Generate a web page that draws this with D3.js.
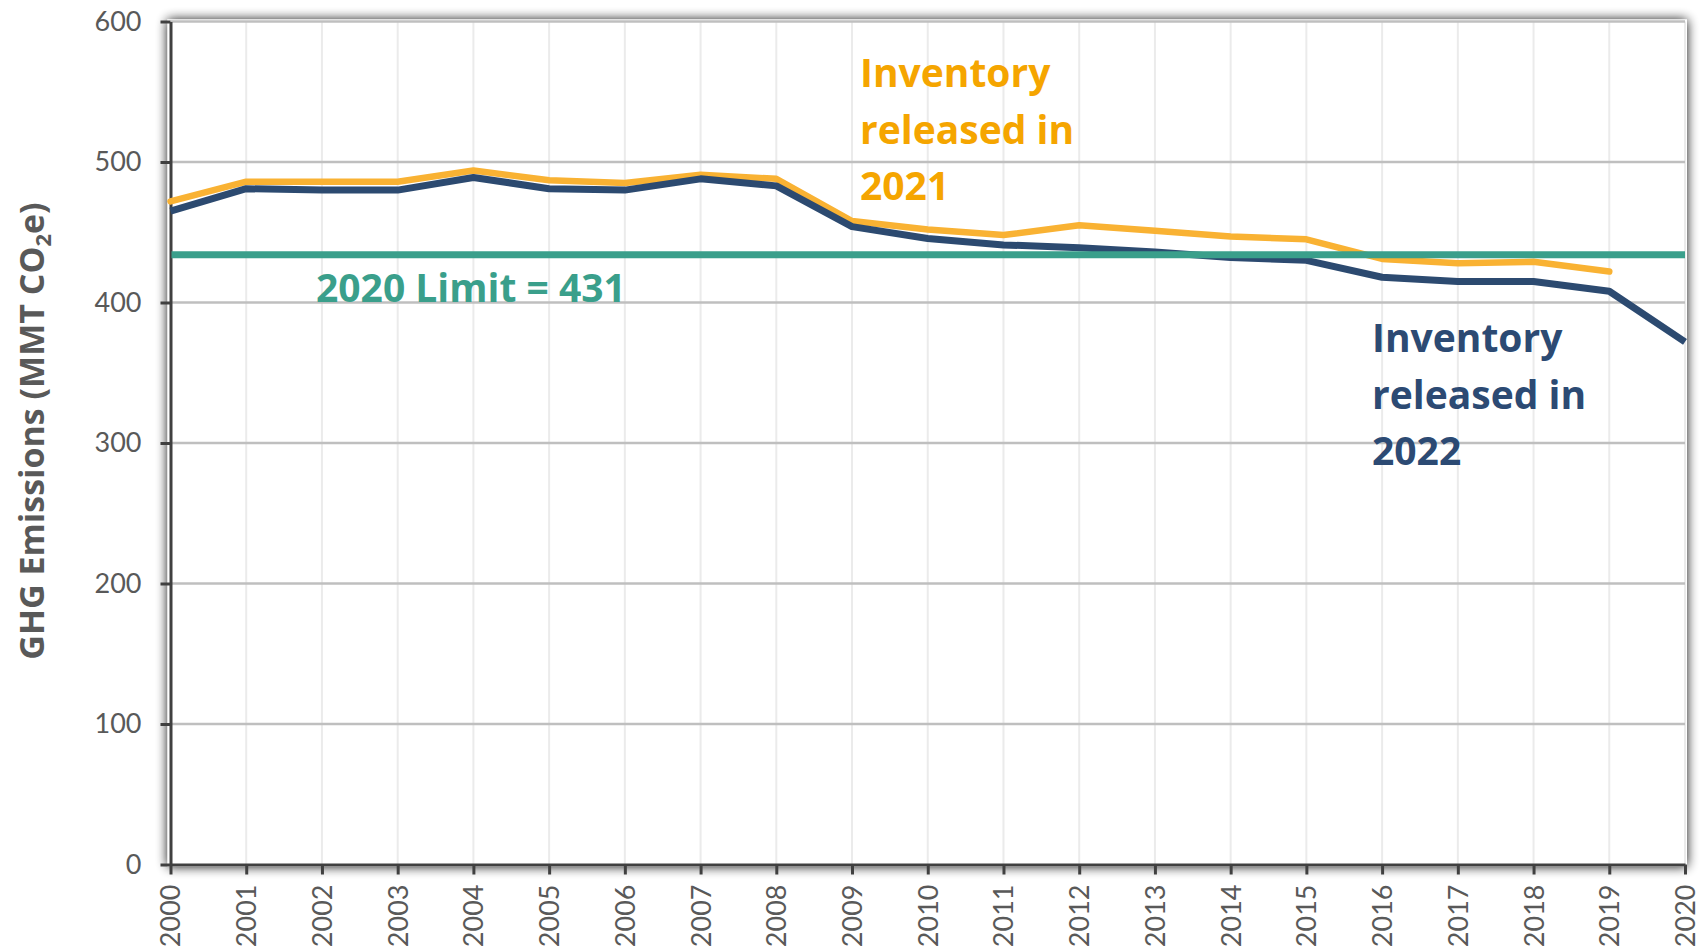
<!DOCTYPE html>
<html lang="en">
	<head>
		<meta charset="UTF-8">
		<title>GHG Emissions Inventory</title>
		<style>
			body, html {
				margin: 0;
				background-color: #ffffff;
			}
			text {
				font-family: "Open Sans", Lato, sans-serif;
			}
		</style>
	</head>
	<body>
		<svg id="svg" width="1703" height="950"></svg>

		<script src="https://d3js.org/d3.v7.min.js"></script>
		<script>
			const years = d3.range(2000, 2021)
			const yTicks = [0, 100, 200, 300, 400, 500, 600]
			// inventory released in 2021 (ends 2019)
			const inv2021 = [472, 486, 486, 486, 494, 487, 485, 491, 488, 458, 452, 448, 455, 451, 447, 445, 431, 428, 429, 422]
			// inventory released in 2022
			const inv2022 = [465, 481, 480, 480, 489, 481, 480, 488, 483, 454, 445.5, 441, 439, 436, 432, 430, 418, 415, 415, 408, 372]
			// limit line as drawn in the picture (labelled 431)
			const limitLine = 434
			const limitLabel = '2020 Limit = 431'

			const svg = d3.select('#svg')
			const plotLeft = 170.5, plotRight = 1685, plotTop = 21.5, plotBottom = 864.5

			const x = d3.scalePoint().domain(years).range([plotLeft, plotRight])
			const y = d3.scaleLinear().domain([0, 600]).range([plotBottom, plotTop])

			// shadow round the plot frame
			const defs = svg.append('defs')
			const f = defs.append('filter').attr('id', 'shadow')
				.attr('x', -0.05).attr('y', -0.05).attr('width', 1.1).attr('height', 1.1)
			f.append('feGaussianBlur').attr('in', 'SourceAlpha').attr('stdDeviation', 6)
			f.append('feComponentTransfer').append('feFuncA').attr('type', 'linear').attr('slope', 0.95)
			const fm = f.append('feMerge')
			fm.append('feMergeNode')
			fm.append('feMergeNode').attr('in', 'SourceGraphic')

			svg.append('rect')
				.attr('x', plotLeft - 3).attr('y', plotTop - 2)
				.attr('width', plotRight - plotLeft + 5).attr('height', plotBottom - plotTop + 4)
				.attr('fill', '#ffffff')
				.attr('filter', 'url(#shadow)')

			// vertical gridlines
			svg.append('g')
				.selectAll('line')
				.data(years.slice(1))
				.enter()
				.append('line')
				.attr('x1', d => x(d)).attr('x2', d => x(d))
				.attr('y1', plotTop).attr('y2', plotBottom)
				.attr('stroke', '#ebebeb')
				.attr('stroke-width', 2)

			// horizontal gridlines
			svg.append('g')
				.selectAll('line')
				.data(yTicks.slice(1))
				.enter()
				.append('line')
				.attr('x1', plotLeft).attr('x2', plotRight)
				.attr('y1', d => y(d)).attr('y2', d => y(d))
				.attr('stroke', '#bfbfbf')
				.attr('stroke-width', 2.5)

			// axes
			const yAxis = svg.append('g')
				.attr('transform', `translate(${plotLeft},0)`)
				.call(d3.axisLeft(y).tickValues(yTicks).tickSize(10).tickPadding(19).tickSizeOuter(0))
			const xAxis = svg.append('g')
				.attr('transform', `translate(0,${plotBottom})`)
				.call(d3.axisBottom(x).tickSize(10).tickSizeOuter(0))

			for (const ax of [yAxis, xAxis]) {
				ax.select('.domain').attr('stroke', '#404040').attr('stroke-width', 3)
				ax.selectAll('.tick line').attr('stroke', '#404040').attr('stroke-width', 3)
				ax.selectAll('.tick text')
					.attr('fill', '#595959')
					.style('font-family', 'Lato, sans-serif')
					.style('font-size', '27px')
			}
			xAxis.selectAll('.tick text')
				.attr('transform', 'rotate(-90)')
				.attr('text-anchor', 'end')
				.attr('x', -20)
				.attr('y', 0)
				.attr('dy', '0.35em')

			// y axis title
			const title = svg.append('text')
				.attr('transform', `translate(44,431) rotate(-90)`)
				.attr('text-anchor', 'middle')
				.attr('fill', '#595959')
				.style('font-weight', 'bold')
				.style('font-size', '34px')
			title.append('tspan').text('GHG Emissions (MMT CO')
			title.append('tspan').text('2').style('font-size', '22px').attr('dy', 7)
			title.append('tspan').text('e)').attr('dy', -7)

			// lines
			const line = d3.line()
				.x((d, i) => x(years[i]))
				.y(d => y(d))

			svg.append('path')
				.datum(inv2021)
				.attr('d', line)
				.attr('fill', 'none')
				.attr('stroke', '#f9b233')
				.attr('stroke-width', 6.5)
				.attr('stroke-linejoin', 'round')
				.attr('stroke-linecap', 'round')

			svg.append('path')
				.datum(inv2022)
				.attr('d', line)
				.attr('fill', 'none')
				.attr('stroke', '#2c4a70')
				.attr('stroke-width', 7)
				.attr('stroke-linejoin', 'round')

			svg.append('line')
				.attr('x1', plotLeft + 1).attr('x2', plotRight)
				.attr('y1', y(limitLine)).attr('y2', y(limitLine))
				.attr('stroke', '#3a9f8b')
				.attr('stroke-width', 7)

			// labels
			const labels = [
				{ lines: ['Inventory', 'released in', '2021'], x: 860, y: 87, color: '#f5a500' },
				{ lines: ['Inventory', 'released in', '2022'], x: 1372, y: 352, color: '#2c4a73' },
				{ lines: [limitLabel], x: 316, y: 302, color: '#3a9f8b' }
			]
			labels.forEach(l => {
				const t = svg.append('text')
					.attr('x', l.x).attr('y', l.y)
					.attr('fill', l.color)
					.style('font-weight', 'bold')
					.style('font-size', '39px')
				l.lines.forEach((s, i) => {
					t.append('tspan').attr('x', l.x).attr('dy', i === 0 ? 0 : 56.5).text(s)
				})
			})
		</script>
	</body>
</html>
